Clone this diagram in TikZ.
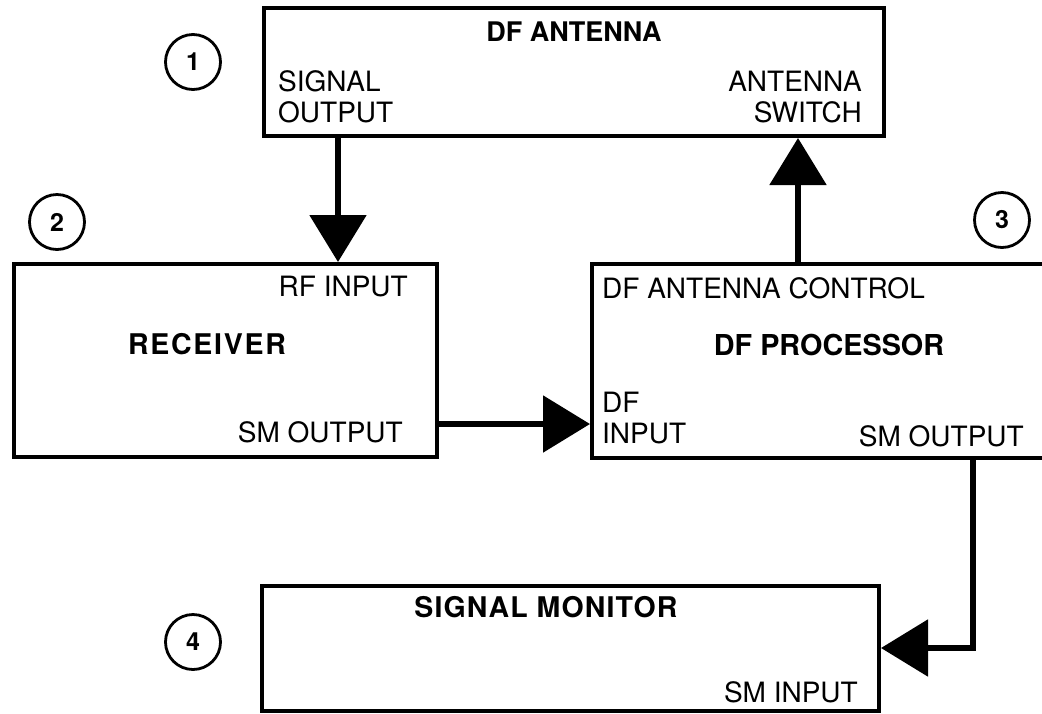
\documentclass[tikz,border=0pt]{standalone}
\usepackage{fontspec}
\setmainfont{TeX Gyre Heros}
\usetikzlibrary{arrows.meta}
\begin{document}
\begin{tikzpicture}[x=1pt,y=-1pt,
  box/.style={draw, line width=4pt, rectangle, inner sep=0pt, anchor=north west},
  num/.style={draw, circle, line width=2.8pt, minimum size=55pt, inner sep=0pt, font=\fontsize{25}{25}\selectfont\bfseries},
  lbl/.style={inner sep=0pt, align=left, font=\fontsize{28}{31}\selectfont},
  lblr/.style={inner sep=0pt, align=right, font=\fontsize{28}{31}\selectfont},
  title/.style={inner sep=0pt, font=\fontsize{28.5}{28.5}\selectfont\bfseries},
  conn/.style={line width=5.5pt, -{Triangle[length=47pt,width=56pt]}},
]
\useasboundingbox (0,0) rectangle (1042,713);
% boxes
\node[box, minimum width=620pt, minimum height=128pt] (ant) at (262,6) {};
\node[box, minimum width=423pt, minimum height=193pt] (rec) at (12,262) {};
\node[box, minimum width=480pt, minimum height=194pt] (proc) at (590,262) {};
\node[box, minimum width=617pt, minimum height=125pt] (mon) at (260,584) {};
% numbers
\node[num] (n1) at (193,62) {1};
\node[num] (n2) at (57,222) {2};
\node[num] (n3) at (1002,220) {3};
\node[num] (n4) at (193,642) {4};
% texts
\node[title, font=\fontsize{27}{27}\selectfont\bfseries] (tant) at (574,32) {DF ANTENNA};
\node[lbl, anchor=west] (tso) at (278,97) {SIGNAL\\OUTPUT};
\node[lblr, anchor=east] (tsw) at (862,97) {ANTENNA\\SWITCH};
\node[lblr, anchor=east] (trf) at (408,287) {RF INPUT};
\node[title, font=\fontsize{28.5}{28.5}\selectfont\bfseries\addfontfeature{LetterSpace=6}] (trec) at (207,344) {RECEIVER};
\node[lblr, anchor=east] (tsmo) at (403,432) {SM OUTPUT};
\node[lbl, anchor=west] (tdac) at (602,288) {DF ANTENNA CONTROL};
\node[title, font=\fontsize{28.8}{28.8}\selectfont\bfseries] (tproc) at (829,345) {DF PROCESSOR};
\node[lbl, anchor=west] (tdfi) at (602,418) {DF\\INPUT};
\node[lblr, anchor=east] (tsmo2) at (1024,436) {SM OUTPUT};
\node[title, font=\fontsize{28.5}{28.5}\selectfont\bfseries\addfontfeature{LetterSpace=4}] (tmon) at (546,607) {SIGNAL MONITOR};
\node[lblr, anchor=east] (tsmi) at (858,692) {SM INPUT};
% connectors
\coordinate (sx) at (338,0);
\coordinate (swx) at (798,0);
\coordinate (hy) at (0,424);
\coordinate (smx) at (973,0);
\coordinate (smy) at (0,648);
\draw[conn] (ant.south -| sx) -- (rec.north -| sx);
\draw[conn] (proc.north -| swx) -- (ant.south -| swx);
\draw[conn] (rec.east |- hy) -- (proc.west |- hy);
\draw[conn] (proc.south -| smx) |- (mon.east |- smy);
\end{tikzpicture}
\end{document}
